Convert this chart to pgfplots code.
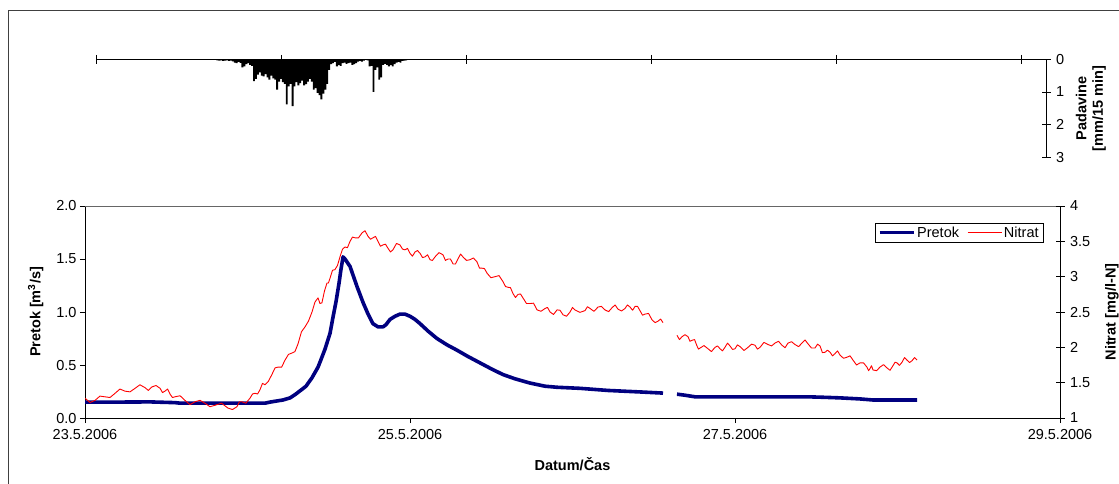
\documentclass[border=0pt]{standalone}
\usepackage{fontspec}
\setmainfont{Liberation Sans}
\usepackage{pgfplots}
\pgfplotsset{compat=1.18}
\definecolor{pretok}{RGB}{0,0,128}
\newcommand{\fs}{\fontsize{14.5}{16.5}\selectfont}

\begin{document}
\begin{tikzpicture}
\useasboundingbox (0pt,0pt) rectangle (1119pt,-483pt);
\fill[white] (0pt,0pt) rectangle (1119pt,-483pt);
\draw[black!75, line width=0.8pt] (8pt,-10pt) rectangle (1135pt,-500pt);

% ---------- rainfall (top) ----------
\begin{axis}[at={(96pt,-157.3pt)}, anchor=south west, scale only axis,
 width=950pt, height=98pt,
 xmin=0, xmax=493, ymin=-3, ymax=0,
 axis x line*=top, axis y line*=right,
 axis line style={black, line width=0.8pt},
 xtick={0,96,192,288,384,480}, xticklabels={},
 ytick={-3,-2,-1,0}, yticklabels={3,2,1,0},
 tick align=center, major tick length=9pt,
 tick style={black, line width=0.8pt},
 tick label style={font=\fs},
 yticklabel style={xshift=2pt},
 /pgf/number format/assume math mode=true,
 ylabel={Padavine\\{[}mm/15 min{]}},
 ylabel style={font=\fs\bfseries, align=center, yshift=-5pt},
 y filter/.expression={-y}]
\addplot[ybar, bar width=1, fill=black, draw=none] coordinates {
(63,0.03)(64,0.04)(65,0.03)(66,0.05)(67,0.04)(68,0.03)(69,0.05)(70,0.04)
(71,0.06)(72,0.10)(73,0.12)(74,0.08)(75,0.11)(76,0.25)(77,0.22)(78,0.15)
(79,0.12)(80,0.17)(81,0.20)(82,0.67)(83,0.60)(84,0.47)(85,0.40)(86,0.50)
(87,0.52)(88,0.45)(89,0.55)(90,0.62)(91,0.50)(92,0.58)(93,0.62)(94,0.93)
(95,0.68)(96,0.60)(97,0.70)(98,0.75)(99,1.38)(100,0.83)(101,0.75)(102,1.43)
(103,0.83)(104,0.70)(105,0.80)(106,0.73)(107,0.65)(108,0.80)(109,0.76)(110,0.68)
(111,0.60)(112,0.68)(113,0.93)(114,0.88)(115,1.03)(116,1.10)(117,1.23)(118,1.05)
(119,0.93)(120,0.75)(121,0.32)(122,0.15)(123,0.12)(124,0.08)(125,0.22)(126,0.18)
(127,0.20)(128,0.12)(129,0.10)(130,0.14)(131,0.12)(132,0.10)(133,0.17)(134,0.15)
(135,0.12)(136,0.07)(137,0.05)(138,0.07)(139,0.04)(140,0.02)(141,0.03)(142,0.22)
(143,0.20)(144,1.00)(145,0.32)(146,0.25)(147,0.62)(148,0.55)(149,0.17)(150,0.14)
(151,0.17)(152,0.22)(153,0.18)(154,0.22)(155,0.15)(156,0.10)(157,0.08)(158,0.10)
(159,0.05)(160,0.04)(161,0.03)
};
\end{axis}

% ---------- discharge (left axis) ----------
\begin{axis}[at={(85pt,-418pt)}, anchor=south west, scale only axis,
 width=975pt, height=212pt,
 xmin=0, xmax=6, ymin=0, ymax=2,
 axis x line*=bottom, axis y line*=left,
 axis line style={black, line width=0.8pt},
 xtick={0,2,4,6}, xticklabels={23.5.2006,25.5.2006,27.5.2006,29.5.2006},
 ytick={0,0.5,1,1.5,2},
 yticklabel style={/pgf/number format/.cd, fixed, fixed zerofill, precision=1},
 xticklabel style={yshift=-3pt},
 tick align=outside, major tick length=5pt,
 tick style={black, line width=0.8pt},
 tick label style={font=\fs},
 /pgf/number format/assume math mode=true,
 xlabel={Datum/Čas}, ylabel={Pretok [m\textsuperscript{3}/s]},
 label style={font=\fs\bfseries},
 xlabel style={yshift=-11pt},
 ylabel style={yshift=6pt},
 unbounded coords=jump]
\draw[black!60, line width=0.8pt] (rel axis cs:0,1) -- (rel axis cs:1,1);
\addplot[draw=pretok, line width=3.6pt, line join=round] coordinates {
(0.000,0.150)(0.185,0.150)(0.400,0.152)(0.554,0.145)(0.585,0.140)(1.108,0.140)
(1.138,0.150)(1.218,0.170)(1.262,0.190)(1.292,0.220)(1.335,0.270)(1.360,0.300)
(1.397,0.380)(1.434,0.480)(1.452,0.550)(1.477,0.650)(1.508,0.800)(1.526,0.950)
(1.545,1.100)(1.563,1.270)(1.575,1.400)(1.588,1.520)(1.600,1.500)(1.631,1.430)
(1.649,1.350)(1.674,1.240)(1.711,1.090)(1.742,0.980)(1.772,0.890)(1.803,0.860)
(1.834,0.860)(1.852,0.880)(1.877,0.930)(1.908,0.960)(1.938,0.980)(1.969,0.980)
(2.000,0.960)(2.031,0.930)(2.062,0.890)(2.111,0.820)(2.166,0.750)(2.228,0.690)
(2.289,0.640)(2.357,0.580)(2.431,0.520)(2.505,0.460)(2.572,0.410)(2.646,0.370)
(2.738,0.330)(2.831,0.300)(2.905,0.290)(3.046,0.280)(3.218,0.260)(3.428,0.245)
(3.557,0.235)(3.600,nan)
(3.643,0.225)(3.692,0.215)(3.754,0.200)(4.092,0.200)(4.449,0.200)(4.554,0.195)
(4.646,0.190)(4.769,0.180)(4.849,0.170)(5.120,0.170)
};
\end{axis}

% ---------- nitrate (right axis) ----------
\begin{axis}[at={(85pt,-418pt)}, anchor=south west, scale only axis,
 width=975pt, height=212pt,
 xmin=0, xmax=6, ymin=1, ymax=4,
 axis x line=none, axis y line*=right,
 axis line style={black, line width=0.8pt},
 ytick={1,1.5,2,2.5,3,3.5,4},
 tick align=center, major tick length=9pt,
 tick style={black, line width=0.8pt},
 tick label style={font=\fs},
 yticklabel style={xshift=2pt},
 /pgf/number format/assume math mode=true,
 ylabel={Nitrat [mg/l-N]},
 label style={font=\fs\bfseries},
 ylabel style={yshift=-8pt},
 unbounded coords=jump,
 legend columns=2,
 legend image code/.code={\draw[#1] (0pt,0pt) -- (34pt,0pt);},
 legend style={at={(0.9836,0.9198)}, anchor=north east, draw=black,
   line width=0.8pt, font=\fs, inner xsep=3pt, inner ysep=1.5pt,
   /tikz/every even column/.append style={column sep=6pt}}]
\addlegendimage{draw=pretok, line width=3pt}
\addlegendentry{Pretok}
\addlegendimage{draw=red, line width=0.9pt}
\addlegendentry{Nitrat}
\addplot[draw=red, line width=0.9pt, line join=round, forget plot] coordinates {
(0.000,1.28)(0.031,1.22)(0.062,1.25)(0.092,1.31)(0.123,1.30)(0.154,1.29)
(0.185,1.35)(0.215,1.41)(0.246,1.38)(0.277,1.37)(0.308,1.42)(0.338,1.47)
(0.369,1.43)(0.390,1.39)(0.412,1.44)(0.437,1.46)(0.462,1.42)(0.477,1.36)
(0.492,1.38)(0.508,1.41)(0.523,1.34)(0.538,1.29)(0.554,1.30)(0.585,1.315)
(0.615,1.25)(0.646,1.19)(0.677,1.23)(0.708,1.25)(0.738,1.21)(0.769,1.16)
(0.800,1.18)(0.840,1.21)(0.880,1.14)(0.908,1.12)(0.935,1.16)(0.950,1.23)
(0.966,1.23)(0.990,1.21)(1.015,1.28)(1.031,1.34)(1.046,1.35)(1.062,1.34)
(1.077,1.40)(1.092,1.49)(1.108,1.47)(1.129,1.52)(1.151,1.62)(1.170,1.71)
(1.188,1.72)(1.210,1.72)(1.231,1.82)(1.252,1.90)(1.274,1.92)(1.292,1.94)
(1.311,2.05)(1.332,2.22)(1.354,2.29)(1.375,2.37)(1.397,2.50)(1.415,2.64)
(1.434,2.70)(1.446,2.62)(1.458,2.63)(1.474,2.80)(1.489,2.91)(1.498,2.91)
(1.508,2.98)(1.523,3.09)(1.538,3.10)(1.554,3.16)(1.569,3.28)(1.585,3.39)
(1.600,3.42)(1.615,3.41)(1.631,3.50)(1.646,3.56)(1.662,3.55)(1.683,3.55)
(1.705,3.62)(1.723,3.65)(1.742,3.57)(1.757,3.53)(1.772,3.55)(1.788,3.57)
(1.803,3.50)(1.818,3.43)(1.834,3.45)(1.849,3.46)(1.865,3.40)(1.880,3.35)
(1.895,3.38)(1.917,3.47)(1.938,3.45)(1.954,3.39)(1.969,3.38)(1.985,3.40)
(2.000,3.33)(2.015,3.29)(2.031,3.35)(2.046,3.37)(2.062,3.33)(2.077,3.27)
(2.092,3.28)(2.108,3.31)(2.123,3.24)(2.138,3.23)(2.154,3.28)(2.178,3.34)
(2.203,3.31)(2.218,3.23)(2.234,3.25)(2.249,3.25)(2.265,3.18)(2.280,3.18)
(2.295,3.25)(2.311,3.32)(2.326,3.28)(2.348,3.23)(2.369,3.24)(2.390,3.265)
(2.412,3.21)(2.428,3.12)(2.443,3.12)(2.458,3.115)(2.474,3.05)(2.498,2.985)
(2.523,3.00)(2.548,3.015)(2.572,2.93)(2.588,2.86)(2.603,2.85)(2.618,2.845)
(2.634,2.76)(2.649,2.705)(2.665,2.75)(2.680,2.755)(2.695,2.70)(2.717,2.62)
(2.738,2.62)(2.760,2.625)(2.782,2.53)(2.806,2.51)(2.831,2.55)(2.846,2.565)
(2.862,2.50)(2.883,2.465)(2.905,2.53)(2.923,2.525)(2.942,2.46)(2.963,2.44)
(2.985,2.50)(3.000,2.565)(3.015,2.53)(3.046,2.495)(3.077,2.52)(3.092,2.575)
(3.108,2.55)(3.132,2.51)(3.157,2.57)(3.178,2.58)(3.200,2.53)(3.222,2.505)
(3.243,2.56)(3.262,2.60)(3.280,2.54)(3.302,2.515)(3.323,2.55)(3.338,2.60)
(3.354,2.57)(3.370,2.525)(3.385,2.58)(3.400,2.58)(3.415,2.52)(3.431,2.455)
(3.446,2.47)(3.468,2.48)(3.489,2.39)(3.508,2.35)(3.526,2.37)(3.542,2.40)
(3.557,2.35)(3.600,nan)
(3.643,2.17)(3.658,2.11)(3.674,2.15)(3.692,2.18)(3.711,2.15)(3.723,2.085)
(3.735,2.10)(3.751,2.11)(3.766,2.02)(3.775,1.975)(3.785,1.99)(3.809,2.025)
(3.834,1.98)(3.855,1.94)(3.877,2.00)(3.892,2.02)(3.908,1.98)(3.923,1.95)
(3.938,2.00)(3.954,2.06)(3.969,2.02)(3.985,1.97)(4.000,1.98)(4.015,2.035)
(4.031,2.01)(4.055,1.955)(4.080,2.00)(4.102,2.045)(4.123,2.03)(4.138,1.975)
(4.154,2.00)(4.178,2.07)(4.203,2.04)(4.225,2.02)(4.246,2.06)(4.268,2.085)
(4.289,2.03)(4.308,1.995)(4.326,2.06)(4.348,2.08)(4.369,2.04)(4.391,2.01)
(4.412,2.06)(4.431,2.105)(4.449,2.05)(4.471,1.99)(4.492,1.99)(4.508,2.045)
(4.523,2.02)(4.538,1.925)(4.554,1.93)(4.569,1.96)(4.585,1.93)(4.600,1.88)
(4.615,1.91)(4.631,1.95)(4.646,1.89)(4.668,1.845)(4.689,1.86)(4.708,1.88)
(4.726,1.82)(4.748,1.75)(4.769,1.78)(4.791,1.78)(4.812,1.72)(4.822,1.67)
(4.831,1.70)(4.840,1.74)(4.849,1.68)(4.871,1.67)(4.892,1.72)(4.914,1.755)
(4.935,1.71)(4.954,1.675)(4.972,1.74)(4.985,1.79)(4.997,1.78)(5.012,1.745)
(5.028,1.79)(5.043,1.855)(5.058,1.82)(5.074,1.785)(5.089,1.81)(5.105,1.855)
(5.120,1.82)
};
\end{axis}
\end{tikzpicture}
\end{document}
